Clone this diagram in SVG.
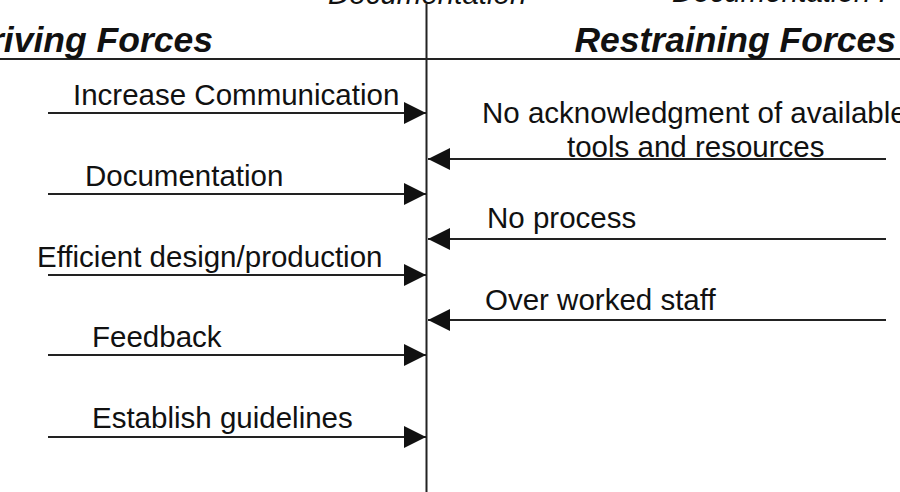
<svg xmlns="http://www.w3.org/2000/svg" width="900" height="492" viewBox="0 0 900 492">
<style>
.lbl{font-family:"Liberation Sans",Arial,sans-serif;font-size:29.5px;fill:#111}
.ttl{font-family:"Liberation Sans",Arial,sans-serif;font-size:35.5px;font-weight:bold;font-style:italic;fill:#111}
.top{font-family:"Liberation Sans",Arial,sans-serif;font-size:29.5px;font-style:italic;fill:#111}
.ln{stroke:#222;stroke-width:2;fill:none}
</style>
<defs>
<marker id="ah" markerUnits="userSpaceOnUse" markerWidth="24" markerHeight="24" refX="22" refY="11" orient="auto">
<path d="M0,0 L22,11 L0,22 Z" fill="#111"/>
</marker>
</defs>
<g id="axes">
<line class="ln" x1="0" y1="59" x2="900" y2="59"/>
<line class="ln" x1="426.5" y1="4" x2="426.5" y2="492"/>
</g>
<g id="headers">
<text class="top" x="328" y="4">Documentation</text>
<text class="top" x="672" y="2">Documentation I</text>
<text class="ttl" x="213" y="52" text-anchor="end">Driving Forces</text>
<text class="ttl" x="896" y="52" text-anchor="end">Restraining Forces</text>
</g>
<g id="connectors">
<line class="ln" x1="48" y1="113" x2="426" y2="113" marker-end="url(#ah)"/>
<line class="ln" x1="48" y1="194" x2="426" y2="194" marker-end="url(#ah)"/>
<line class="ln" x1="48" y1="275" x2="426" y2="275" marker-end="url(#ah)"/>
<line class="ln" x1="48" y1="355" x2="426" y2="355" marker-end="url(#ah)"/>
<line class="ln" x1="48" y1="437" x2="426" y2="437" marker-end="url(#ah)"/>
<line class="ln" x1="886" y1="159" x2="428" y2="159" marker-end="url(#ah)"/>
<line class="ln" x1="886" y1="239" x2="428" y2="239" marker-end="url(#ah)"/>
<line class="ln" x1="886" y1="320" x2="428" y2="320" marker-end="url(#ah)"/>
</g>
<g id="d1"><text class="lbl" x="73" y="105">Increase Communication</text></g>
<g id="d2"><text class="lbl" x="85" y="186">Documentation</text></g>
<g id="d3"><text class="lbl" x="37" y="267">Efficient design/production</text></g>
<g id="d4"><text class="lbl" x="92" y="347">Feedback</text></g>
<g id="d5"><text class="lbl" x="92" y="428">Establish guidelines</text></g>
<g id="r1"><text class="lbl" x="482" y="123">No acknowledgment of available</text>
<text class="lbl" x="567" y="157">tools and resources</text></g>
<g id="r2"><text class="lbl" x="487" y="228">No process</text></g>
<g id="r3"><text class="lbl" x="485" y="310">Over worked staff</text></g>
</svg>
